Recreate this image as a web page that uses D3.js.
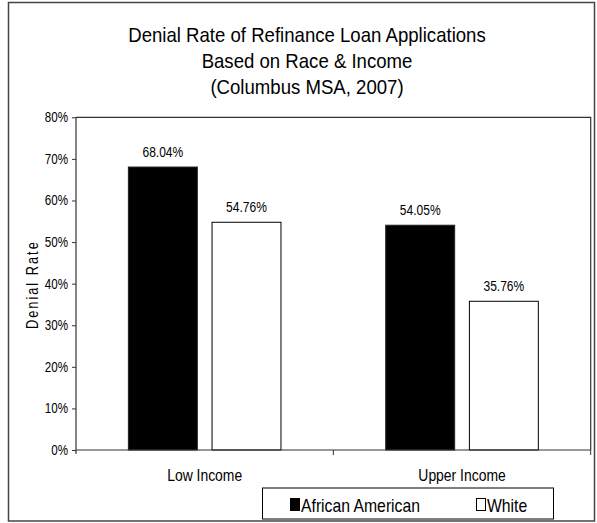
<!DOCTYPE html>
<html>
<head>
<meta charset="utf-8">
<script src="https://cdn.jsdelivr.net/npm/d3@7"></script>
<style>
  html, body { margin: 0; padding: 0; background: #fff; }
  svg { display: block; }
  text { font-family: Arial, "Liberation Sans", sans-serif; fill: #000; }
</style>
</head>
<body>
<svg id="chart" width="597" height="523"></svg>
<script>
const titleLines = ["Denial Rate of Refinance Loan Applications", "Based on Race & Income", "(Columbus MSA, 2007)"];
const categories = ["Low Income", "Upper Income"];
const seriesNames = ["African American", "White"];
const africanAmerican = [0.6804, 0.5405];
const white = [0.5476, 0.3576];
const yTicks = [0, 0.1, 0.2, 0.3, 0.4, 0.5, 0.6, 0.7, 0.8];
const yLabel = "Denial Rate";

const seriesValues = [africanAmerican, white];
const fills = ["#000000", "#ffffff"];

const svg = d3.select("#chart");

// outer frame
svg.append("rect").attr("x", 8.5).attr("y", 2.5).attr("width", 586).attr("height", 518.5)
  .attr("fill", "#fff").attr("stroke", "#444").attr("stroke-width", 1.5);

// title
titleLines.forEach((t, i) => {
  svg.append("text").attr("transform", `translate(307,${41.5 + i * 26}) scale(0.93,1)`)
    .attr("text-anchor", "middle").attr("font-size", 20).text(t);
});

const plot = { left: 76, right: 590.7, top: 117.3, bottom: 450 };

const y = d3.scaleLinear().domain([0, 0.8]).range([plot.bottom, plot.top]);
const x0 = d3.scaleBand().domain(categories).range([plot.left, plot.right]).paddingInner(0).paddingOuter(0);
const x1 = d3.scaleBand().domain(seriesNames).range([0, x0.bandwidth()]).paddingInner(0.164).paddingOuter(0.62);

// plot frame (top & right)
svg.append("path")
  .attr("d", `M${plot.left},${plot.top}H${plot.right}V${plot.bottom}`)
  .attr("fill", "none").attr("stroke", "#333").attr("stroke-width", 1.2);

// bars
categories.forEach((c, ci) => {
  seriesNames.forEach((s, si) => {
    const v = seriesValues[si][ci];
    const bx = x0(c) + x1(s);
    svg.append("rect")
      .attr("x", bx + 0.5).attr("y", y(v))
      .attr("width", x1.bandwidth() - 1).attr("height", plot.bottom - y(v))
      .attr("fill", fills[si]).attr("stroke", si === 0 ? "#222" : "#000").attr("stroke-width", 1);
    svg.append("text")
      .attr("transform", `translate(${bx + x1.bandwidth() / 2},${y(v) - 10}) scale(0.86,1)`)
      .attr("text-anchor", "middle").attr("font-size", 14)
      .text((v * 100).toFixed(2) + "%");
  });
});

// y axis
const yAxis = d3.axisLeft(y).tickValues(yTicks).tickSize(4).tickFormat(d3.format(".0%"));
const ya = svg.append("g").attr("transform", `translate(${plot.left},0)`).call(yAxis);
ya.select(".domain").attr("d", `M0,${plot.top}V${plot.bottom + 4}`).attr("stroke", "#333").attr("stroke-width", 1.2);
ya.selectAll(".tick line").attr("stroke", "#333");
ya.selectAll(".tick text").remove();
yTicks.forEach(t => {
  svg.append("text")
    .attr("transform", `translate(${plot.left - 8},${y(t) + 5}) scale(0.83,1)`)
    .attr("text-anchor", "end").attr("font-size", 14)
    .text(d3.format(".0%")(t));
});

// x axis
const xa = svg.append("g").attr("transform", `translate(0,${plot.bottom})`);
xa.append("line").attr("x1", plot.left).attr("x2", plot.right).attr("stroke", "#333").attr("stroke-width", 1.2);
const boundaries = [x0(categories[1]), plot.right];
boundaries.forEach(bx => {
  xa.append("line").attr("x1", bx).attr("x2", bx).attr("y1", 0).attr("y2", 5).attr("stroke", "#333");
});
categories.forEach(c => {
  svg.append("text")
    .attr("transform", `translate(${x0(c) + x0.bandwidth() / 2},${plot.bottom + 31}) scale(0.87,1)`)
    .attr("text-anchor", "middle").attr("font-size", 16).text(c);
});

// y label
svg.append("text")
  .attr("transform", `translate(38,${(plot.top + plot.bottom) / 2 + 1}) rotate(-90) scale(0.8,1)`)
  .attr("text-anchor", "middle").attr("font-size", 16).attr("letter-spacing", 2.5)
  .text(yLabel);

// legend
const lg = svg.append("g");
lg.append("rect").attr("x", 262.5).attr("y", 488).attr("width", 291).attr("height", 31)
  .attr("fill", "#fff").attr("stroke", "#000").attr("stroke-width", 1);
const legendPos = [290, 476];
seriesNames.forEach((s, i) => {
  lg.append("rect").attr("x", legendPos[i] + 0.5).attr("y", 498.5).attr("width", 9).attr("height", 12)
    .attr("fill", fills[i]).attr("stroke", "#000").attr("stroke-width", 1);
  lg.append("text")
    .attr("transform", `translate(${legendPos[i] + 11},${511.5}) scale(0.875,1)`)
    .attr("font-size", 18).text(s);
});
</script>
</body>
</html>
